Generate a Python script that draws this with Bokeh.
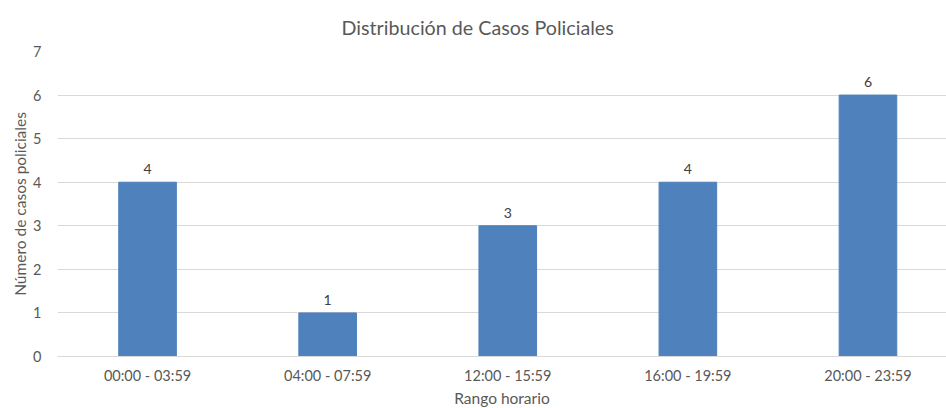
from bokeh.plotting import figure
from bokeh.models import Range1d, FixedTicker, Title, ColumnDataSource
from bokeh.embed import file_html
from bokeh.resources import INLINE
from bokeh.core.properties import value

categories = ["00:00 - 03:59", "04:00 - 07:59", "12:00 - 15:59", "16:00 - 19:59", "20:00 - 23:59"]
casos = [4, 1, 3, 4, 6]
y_ticks = [0, 1, 2, 3, 4, 5, 6, 7]
titulo = "Distribución de Casos Policiales"

FONT = "Lato"
GRAY = "#595959"

xs = [i + 0.5 for i in range(len(categories))]
src = ColumnDataSource(dict(x=xs, y=casos, lbl=[str(v) for v in casos]))

p = figure(frame_width=889, frame_height=305, output_backend="svg", toolbar_location=None,
           x_range=Range1d(0, 4.936), y_range=Range1d(0, 7),
           min_border_left=57, min_border_right=0, min_border_top=51, min_border_bottom=52)
p.outline_line_color = None

xa = p.below[0]
ya = p.left[0]

t = Title(text=titulo, align="left", offset=284, vertical_align="top", standoff=22,
          text_font=FONT, text_font_size="19.7px", text_color=GRAY, text_font_style="normal")
p.add_layout(t, "above")

p.vbar(x="x", top="y", width=0.32, source=src, color="#4F81BD")
p.text(x="x", y="y", text="lbl", source=src, text_align="center", text_baseline="alphabetic",
       y_offset=-13, text_font=value(FONT), text_font_size="14px", text_color="#404040")

p.xgrid.visible = False
p.ygrid.grid_line_color = "#D9D9D9"
p.ygrid.ticker = FixedTicker(ticks=y_ticks)

xa.ticker = FixedTicker(ticks=xs)
xa.major_label_overrides = {x: c for x, c in zip(xs, categories)}
ya.ticker = FixedTicker(ticks=y_ticks)

for ax in (xa, ya):
    ax.major_tick_line_color = None
    ax.minor_tick_line_color = None
    ax.major_tick_out = 0
    ax.major_tick_in = 0
    ax.minor_tick_out = 0
    ax.minor_tick_in = 0
    ax.major_label_text_font = FONT
    ax.major_label_text_font_size = "14.5px"
    ax.major_label_text_color = GRAY
    ax.axis_label_text_font = FONT
    ax.axis_label_text_font_size = "15.5px"
    ax.axis_label_text_color = GRAY
    ax.axis_label_text_font_style = "normal"

xa.axis_line_color = "#D9D9D9"
xa.axis_label = "Rango horario"
xa.major_label_standoff = 10
xa.axis_label_standoff = 2
ya.axis_line_color = None
ya.axis_label = "Número de casos policiales"
ya.major_label_standoff = 16
ya.axis_label_standoff = 1

open("out.html", "w").write(file_html(p, INLINE))
